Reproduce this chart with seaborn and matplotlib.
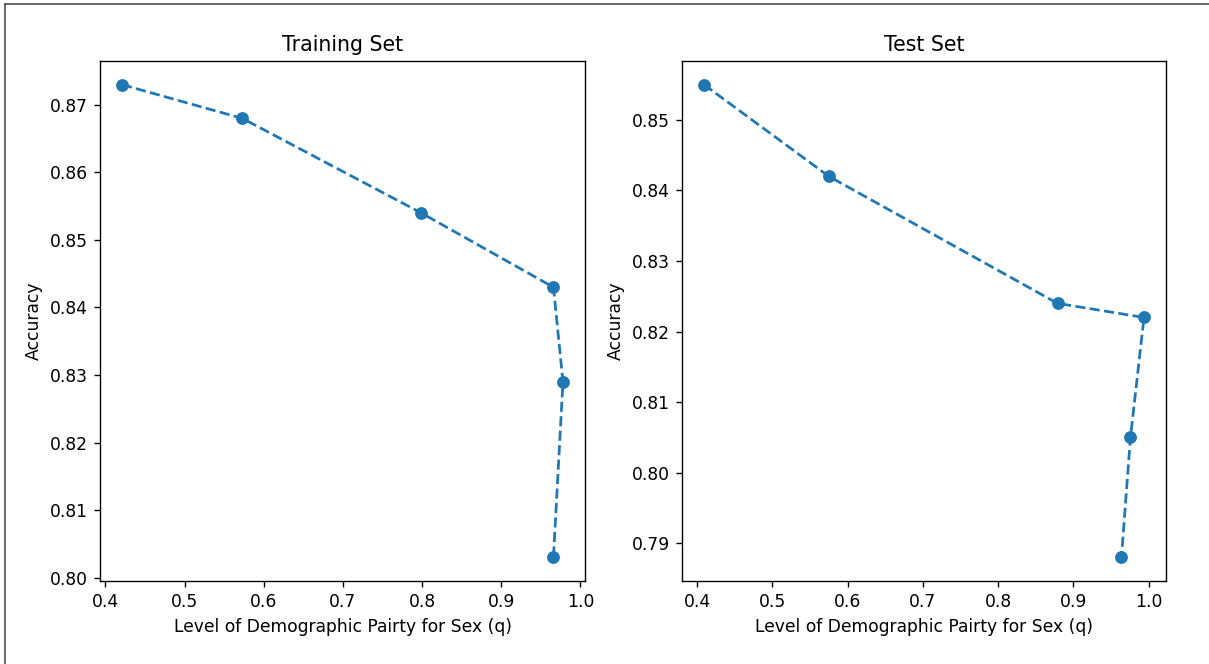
import matplotlib
matplotlib.use("Agg")
import matplotlib.pyplot as plt
from matplotlib.lines import Line2D
import seaborn as sns
import pandas as pd

# Data
train_q = [0.421, 0.573, 0.799, 0.966, 0.978, 0.966]
train_acc = [0.873, 0.868, 0.854, 0.843, 0.829, 0.803]
test_q = [0.409, 0.575, 0.879, 0.994, 0.976, 0.964]
test_acc = [0.855, 0.842, 0.824, 0.822, 0.805, 0.788]

titles = ["Training Set", "Test Set"]
xlabel = "Level of Demographic Pairty for Sex (q)"
ylabel = "Accuracy"

DPI = 123
fig = plt.figure(figsize=(1209 / DPI, 664 / DPI), dpi=DPI)
W, H = 1209, 664
ax1 = fig.add_axes([100 / W, 1 - 581 / H, 485 / W, 520 / H])
ax2 = fig.add_axes([682 / W, 1 - 581 / H, 484 / W, 520 / H])

for ax, q, acc, title in [(ax1, train_q, train_acc, titles[0]),
                          (ax2, test_q, test_acc, titles[1])]:
    df = pd.DataFrame({"q": q, "acc": acc})
    sns.lineplot(data=df, x="q", y="acc", ax=ax, sort=False, estimator=None,
                 marker="o", linestyle="--", color="#1f77b4",
                 markersize=7.5, markeredgewidth=0, linewidth=1.6)
    ax.set_title(title)
    ax.set_xlabel(xlabel)
    ax.set_ylabel(ylabel)
    ax.yaxis.set_major_formatter(matplotlib.ticker.FormatStrFormatter("%.2f"))
    ax.xaxis.set_major_formatter(matplotlib.ticker.FormatStrFormatter("%.1f"))

# image frame lines (top and left)
fig.add_artist(Line2D([5 / W, 1], [1 - 4 / H, 1 - 4 / H], transform=fig.transFigure,
                      color="#555555", lw=1.0))
fig.add_artist(Line2D([5 / W, 5 / W], [0, 1 - 4 / H], transform=fig.transFigure,
                      color="#555555", lw=1.0))

fig.savefig("out.png", dpi=DPI)
